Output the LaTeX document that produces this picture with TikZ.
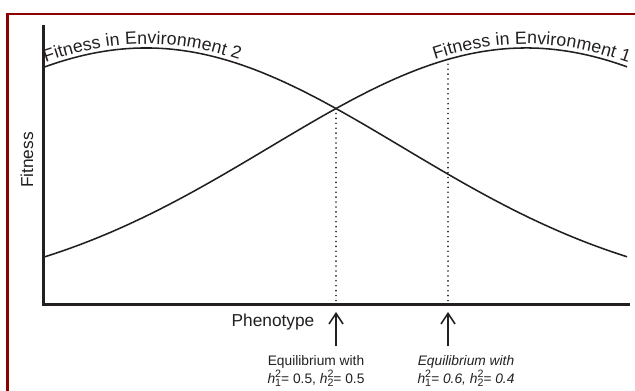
\documentclass[tikz,border=0pt]{standalone}
\usepackage{fontspec}
\setmainfont{Liberation Sans}
\usetikzlibrary{arrows.meta,decorations.text}
\definecolor{framered}{RGB}{140,0,0}
\definecolor{inkgray}{RGB}{35,31,32}
\newcommand{\smallfig}[1]{{\fontsize{7.6}{8}\selectfont\upshape #1}}
\newcommand{\hsq}[1]{\textit{h}\rlap{\raisebox{0.85ex}{\smallfig{2}}}\raisebox{-0.45ex}{\smallfig{#1}}}

\begin{document}
\begin{tikzpicture}[x=0.025cm,y=-0.025cm,
  declare function={fitA(\t)=300-252*exp(-(((\t-526)/100)^2)/13.13);
                    fitB(\t)=300-252*exp(-(((\t-146)/100)^2)/13.13);},
  axis/.style={draw=inkgray,line width=2.1pt},
  curve/.style={draw=inkgray,line width=1.1pt},
  guide/.style={draw=inkgray,line width=1.3pt,line cap=round,dash pattern=on 0pt off 3.5pt},
  pointer/.style={draw=inkgray,line width=1.1pt,-{Straight Barb[length=7.5pt,width=10pt,line width=1.1pt]}},
  lbl/.style={font=\fontsize{12.3}{14}\selectfont,text=inkgray,inner sep=0pt},
  note/.style={font=\fontsize{9.8}{10}\selectfont,text=inkgray,align=center,inner sep=0pt},
  itnote/.style={note,font=\fontsize{9.8}{10}\selectfont\itshape},
  curvetext/.style={decorate,decoration={text along path,raise=2.8pt,
    text color=inkgray,text={|\fontsize{12.6}{14}\selectfont|#1}}}]

  \useasboundingbox (0,0) rectangle (635,390);

  % frame
  \draw[framered,line width=1.9pt] (7.3,400) -- (7.3,14) -- (650,14);

  % axes
  \coordinate (ytop) at (43.5,25);
  \coordinate (origin) at (43.5,304.5);
  \coordinate (xend) at (630,304.5);
  \draw[axis] (ytop) -- (origin) -- (xend);

  \node[lbl,rotate=90,anchor=base] (fitlbl) at (33,160) {Fitness};
  \node[lbl,anchor=base] (phenolbl) at (273,326) {Phenotype};

  % the two fitness curves
  \draw[curve] plot[domain=44:627,samples=120] (\x,{fitA(\x)});
  \draw[curve] plot[domain=44:627,samples=120] (\x,{fitB(\x)});

  \path[curvetext={Fitness in Environment 2}] plot[domain=47:340,samples=80] (\x,{fitB(\x)});
  \path[curvetext={Fitness in Environment 1}] plot[domain=436:680,samples=80] (\x,{fitA(\x)});

  % equilibria
  \coordinate (meetA) at (336,{fitA(336)});
  \coordinate (baseA) at (336,303);
  \coordinate (meetB) at (448,{fitA(448)});
  \coordinate (baseB) at (448,303);
  \draw[guide] (meetA) -- (baseA);
  \draw[guide] (meetB) -- (baseB);

  \coordinate (tipA) at (336,312);
  \coordinate (tailA) at (336,346);
  \coordinate (tipB) at (448,312);
  \coordinate (tailB) at (448,346);
  \draw[pointer] (tailA) -- (tipA);
  \draw[pointer] (tailB) -- (tipB);

  \node[note,anchor=north] (eqA) at (316,355) {Equilibrium with\\ \hsq{1}= 0.5, \hsq{2}= 0.5};
  \node[itnote,anchor=north] (eqB) at (466,355) {Equilibrium with\\ \hsq{1}= 0.6, \hsq{2}= 0.4};

\end{tikzpicture}
\end{document}
